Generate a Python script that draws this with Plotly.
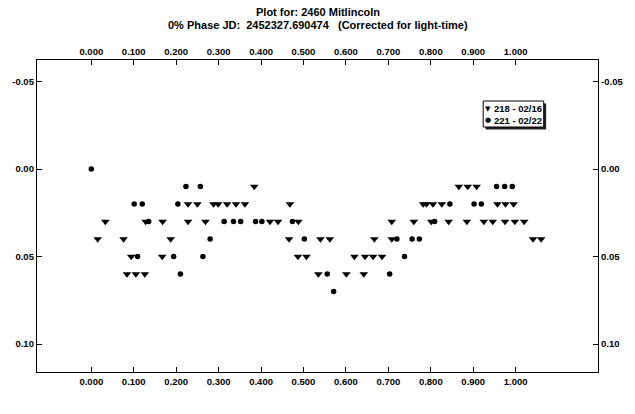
import plotly.graph_objects as go

# Session 218 (2002-02-16): phase and differential magnitude
phase_218 = [0.015, 0.033, 0.076, 0.084, 0.094, 0.105, 0.126, 0.128, 0.167, 0.168,
             0.187, 0.228, 0.228, 0.250, 0.269, 0.288, 0.299, 0.320, 0.341, 0.362,
             0.384, 0.421, 0.440, 0.466, 0.468, 0.487, 0.488, 0.507, 0.535, 0.540,
             0.562, 0.601, 0.620, 0.642, 0.645, 0.664, 0.667, 0.685, 0.708, 0.708,
             0.760, 0.782, 0.790, 0.801, 0.805, 0.826, 0.842, 0.866, 0.885, 0.887,
             0.908, 0.925, 0.946, 0.957, 0.975, 0.976, 0.995, 0.998, 1.020, 1.041,
             1.060]
mag_218 = [0.04, 0.03, 0.04, 0.06, 0.05, 0.06, 0.06, 0.03, 0.05, 0.03,
           0.04, 0.02, 0.03, 0.02, 0.03, 0.02, 0.02, 0.02, 0.02, 0.02,
           0.01, 0.03, 0.03, 0.04, 0.02, 0.05, 0.03, 0.05, 0.06, 0.04,
           0.04, 0.06, 0.05, 0.06, 0.05, 0.05, 0.04, 0.05, 0.03, 0.04,
           0.03, 0.02, 0.02, 0.03, 0.02, 0.02, 0.03, 0.01, 0.03, 0.01,
           0.01, 0.03, 0.03, 0.02, 0.03, 0.02, 0.02, 0.03, 0.03, 0.04,
           0.04]

# Session 221 (2002-02-22)
phase_221 = [0.000, 0.101, 0.109, 0.120, 0.135, 0.194, 0.204, 0.210, 0.223, 0.257,
             0.263, 0.280, 0.313, 0.335, 0.352, 0.387, 0.402, 0.474, 0.502, 0.556,
             0.571, 0.703, 0.720, 0.738, 0.756, 0.773, 0.809, 0.845, 0.902, 0.919,
             0.955, 0.974, 0.992]
mag_221 = [0.00, 0.02, 0.05, 0.02, 0.03, 0.05, 0.02, 0.06, 0.01, 0.01,
           0.05, 0.04, 0.03, 0.03, 0.03, 0.03, 0.03, 0.03, 0.04, 0.06,
           0.07, 0.06, 0.04, 0.05, 0.04, 0.04, 0.03, 0.02, 0.02, 0.02,
           0.01, 0.01, 0.01]

x_tickvals = [0.0, 0.1, 0.2, 0.3, 0.4, 0.5, 0.6, 0.7, 0.8, 0.9, 1.0]
x_ticktext = ["0.000", "0.100", "0.200", "0.300", "0.400", "0.500",
              "0.600", "0.700", "0.800", "0.900", "1.000"]
y_tickvals = [-0.05, 0.0, 0.05, 0.10]
y_ticktext = ["-0.05", "0.00", "0.05", "0.10"]

legend_labels = ["218 - 02/16", "221 - 02/22"]
title_lines = ["Plot for: 2460 Mitlincoln",
               "0% Phase JD:\u00a0\u00a02452327.690474\u00a0\u00a0\u00a0(Corrected for light-time)"]

X_RANGE = [-0.128, 1.194]
Y_RANGE = [0.116, -0.0623]

FONT = "Liberation Sans"
tickfont = dict(family=FONT, size=9.5, color="black", weight="bold")

fig = go.Figure()
fig.add_trace(go.Scatter(
    x=phase_218, y=mag_218, mode="markers", name=legend_labels[0],
    marker=dict(symbol="triangle-down", size=7.5, color="black"),
    showlegend=False, hoverinfo="skip"))
fig.add_trace(go.Scatter(
    x=phase_221, y=mag_221, mode="markers", name=legend_labels[1],
    marker=dict(symbol="circle", size=5.5, color="black"),
    showlegend=False, hoverinfo="skip"))
# invisible trace so the mirrored top/right axes are created
fig.add_trace(go.Scatter(
    x=phase_221[:1], y=mag_221[:1], xaxis="x2", yaxis="y2", mode="markers",
    marker=dict(opacity=0), showlegend=False, hoverinfo="skip"))

axis_common = dict(showline=True, linecolor="black", linewidth=1.3,
                   ticks="inside", ticklen=5, tickwidth=1, tickcolor="black",
                   showgrid=False, zeroline=False, tickfont=tickfont)

ML, MR, MT, MB = 33, 23, 60, 42
W, H = 635, 414

fig.update_layout(
    width=W, height=H,
    margin=dict(l=ML, r=MR, t=MT, b=MB),
    paper_bgcolor="white", plot_bgcolor="white",
    showlegend=False,
    xaxis=dict(range=X_RANGE, tickmode="array", tickvals=x_tickvals,
               ticktext=x_ticktext, side="bottom", **axis_common),
    xaxis2=dict(range=X_RANGE, tickmode="array", tickvals=x_tickvals,
                ticktext=x_ticktext, side="top", overlaying="x", anchor="y",
                **axis_common),
    yaxis=dict(range=Y_RANGE, tickmode="array", tickvals=y_tickvals,
               ticktext=y_ticktext, side="left", **axis_common),
    yaxis2=dict(range=Y_RANGE, tickmode="array", tickvals=y_tickvals,
                ticktext=y_ticktext, side="right", overlaying="y", anchor="x",
                **axis_common),
)

# two-line title
fig.add_annotation(text=title_lines[0], x=0.5, y=1, xref="paper", yref="paper",
                   xanchor="center", yanchor="middle", yshift=48, showarrow=False,
                   font=dict(family=FONT, size=11, color="black", weight="bold"))
fig.add_annotation(text=title_lines[1], x=0.5, y=1, xref="paper", yref="paper",
                   xanchor="center", yanchor="middle", yshift=35, showarrow=False,
                   font=dict(family=FONT, size=11, color="black", weight="bold"))

# legend box with drop shadow, placed in page pixels converted to paper units
PW, PH = W - ML - MR, H - MT - MB
def px(xp):
    return (xp - ML) / PW
def py(yp):
    return (MT + PH - yp) / PH

box = (493.5, 101.0, 556.0, 127.0)
fig.add_shape(type="rect", xref="paper", yref="paper",
              x0=px(box[0] + 2.5), x1=px(box[2] + 2.5),
              y0=py(box[1] + 2.5), y1=py(box[3] + 2.5),
              line=dict(width=0), fillcolor="#222222", layer="above")
fig.add_shape(type="rect", xref="paper", yref="paper",
              x0=px(box[0]), x1=px(box[2]), y0=py(box[1]), y1=py(box[3]),
              line=dict(color="black", width=1), fillcolor="white", layer="above")

legend_symbols = ["\u25BC", "\u25CF"]
for i, (sym, lab) in enumerate(zip(legend_symbols, legend_labels)):
    yc = 108.5 + i * 11.5
    fig.add_annotation(text=sym, x=px(498.0), y=py(yc), xref="paper", yref="paper",
                       xanchor="center", yanchor="middle", showarrow=False,
                       font=dict(family="DejaVu Sans", size=7, color="black"))
    fig.add_annotation(text=lab, x=px(502.5), y=py(yc), xref="paper", yref="paper",
                       xanchor="left", yanchor="middle", showarrow=False,
                       font=dict(family=FONT, size=9.5, color="black", weight="bold"))

fig.write_html("out.html", config={"displayModeBar": False})
